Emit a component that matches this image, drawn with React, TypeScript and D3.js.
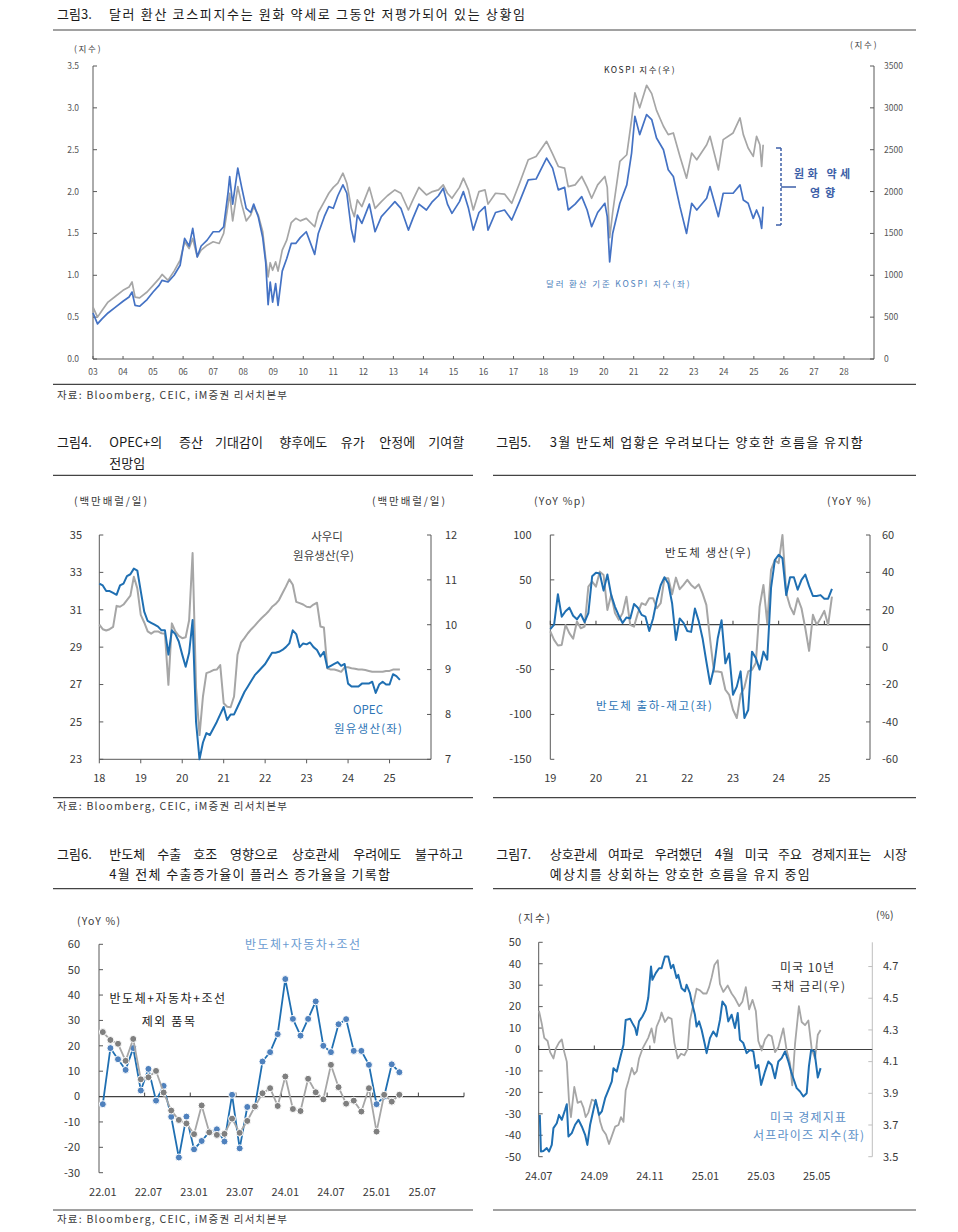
import React from 'react';
import * as d3 from 'd3';

const FONT = '"Noto Sans CJK KR", "Noto Sans", sans-serif';
const INK = '#1a1a1a';
const AXIS = '#595959';
const TXT = '#3a3a3a';
const BLUE3 = '#4472c4';
const BLUE = '#1f6fb2';
const LBLUE = '#4f81bd';
const GRAY = '#a6a6a6';
const DGRAY = '#7f7f7f';

// ---------------- Fig 3 : KOSPI vs USD KOSPI ----------------
const fig3Years = [
  2003.0, 2003.15, 2003.3, 2003.5, 2003.75, 2004.0, 2004.2, 2004.3, 2004.4, 2004.55, 2004.8,
  2005.0, 2005.2, 2005.3, 2005.5, 2005.7, 2005.9, 2006.05, 2006.2, 2006.32, 2006.47, 2006.6, 2006.8,
  2007.0, 2007.2, 2007.35, 2007.5, 2007.55, 2007.65, 2007.82, 2007.95, 2008.1, 2008.25, 2008.35,
  2008.5, 2008.65, 2008.75, 2008.83, 2008.9, 2008.98, 2009.08, 2009.16, 2009.3, 2009.45, 2009.6,
  2009.75, 2009.9, 2010.1, 2010.38, 2010.5, 2010.7, 2010.85, 2011.0, 2011.15, 2011.32, 2011.45,
  2011.6, 2011.7, 2011.8, 2011.95, 2012.2, 2012.39, 2012.6, 2012.8, 2013.05, 2013.25, 2013.5,
  2013.65, 2013.85, 2014.1, 2014.3, 2014.5, 2014.66, 2014.8, 2014.95, 2015.2, 2015.33, 2015.5,
  2015.66, 2015.85, 2016.05, 2016.15, 2016.4, 2016.7, 2016.94, 2017.2, 2017.49, 2017.75, 2018.1,
  2018.3, 2018.49, 2018.7, 2018.82, 2019.05, 2019.27, 2019.45, 2019.6, 2019.8, 2020.04, 2020.12,
  2020.2, 2020.3, 2020.54, 2020.77, 2020.93, 2021.04, 2021.2, 2021.43, 2021.6, 2021.76, 2021.99,
  2022.15, 2022.32, 2022.54, 2022.76, 2022.93, 2023.1, 2023.43, 2023.54, 2023.82, 2023.98,
  2024.31, 2024.54, 2024.65, 2024.81, 2024.98, 2025.09, 2025.2, 2025.26, 2025.31,
];
const fig3UsdKospi = [
  0.55, 0.42, 0.48, 0.55, 0.62, 0.69, 0.74, 0.8, 0.64, 0.63, 0.71,
  0.8, 0.88, 0.94, 0.92, 1.0, 1.12, 1.44, 1.35, 1.56, 1.22, 1.35, 1.42,
  1.52, 1.52, 1.58, 2.0, 2.18, 1.85, 2.28, 2.05, 1.8, 1.75, 1.85,
  1.7, 1.45, 1.15, 0.65, 0.92, 0.68, 0.9, 0.64, 1.05, 1.2, 1.38,
  1.38, 1.45, 1.52, 1.25, 1.5, 1.7, 1.82, 1.8, 1.95, 2.08, 1.98,
  1.55, 1.4, 1.72, 1.62, 1.85, 1.52, 1.7, 1.78, 1.88, 1.8, 1.54,
  1.68, 1.85, 1.78, 1.88, 1.95, 2.04, 1.85, 1.74, 1.88, 2.0, 1.8,
  1.54, 1.75, 1.82, 1.54, 1.75, 1.78, 1.66, 1.88, 2.14, 2.15, 2.4,
  2.28, 2.02, 2.05, 1.78, 1.85, 1.94, 1.78, 1.58, 1.75, 1.86, 1.7,
  1.16, 1.5, 1.86, 2.08, 2.46, 2.9, 2.68, 2.92, 2.86, 2.64, 2.5,
  2.26, 2.18, 1.82, 1.5, 1.86, 1.78, 1.92, 2.06, 1.7, 1.98,
  1.98, 2.08, 1.9, 1.86, 1.68, 1.78, 1.68, 1.56, 1.82,
];
const fig3Kospi = [
  620, 500, 580, 680, 750, 820, 860, 920, 740, 730, 800,
  880, 960, 1010, 940, 1050, 1180, 1400, 1320, 1440, 1220, 1300, 1360,
  1400, 1380, 1500, 1850, 1980, 1650, 2060, 1850, 1650, 1720, 1820,
  1720, 1520, 1200, 980, 1150, 1060, 1160, 1050, 1300, 1420, 1630,
  1680, 1650, 1680, 1580, 1750, 1880, 1980, 2050, 2100, 2220, 2100,
  1800, 1700, 1900, 1820, 2050, 1800, 1880, 1950, 2020, 1980, 1780,
  1900, 2050, 1960, 2000, 2020, 2080, 1980, 1920, 2050, 2160, 2020,
  1780, 2000, 2020, 1850, 1980, 1970, 1860, 2100, 2380, 2420, 2600,
  2450, 2300, 2280, 2060, 2080, 2180, 2050, 1920, 2080, 2180, 2050,
  1450, 1750, 2360, 2440, 2860, 3180, 3000, 3270, 3170, 2970, 2780,
  2680, 2700, 2420, 2160, 2460, 2380, 2560, 2660, 2260, 2620,
  2700, 2880, 2680, 2520, 2420, 2660, 2560, 2300, 2560,
];
const fig3XLabels = ['03', '04', '05', '06', '07', '08', '09', '10', '11', '12', '13', '14', '15',
  '16', '17', '18', '19', '20', '21', '22', '23', '24', '25', '26', '27', '28'];
const fig3LeftTicks = [0, 0.5, 1, 1.5, 2, 2.5, 3, 3.5];
const fig3RightTicks = [0, 500, 1000, 1500, 2000, 2500, 3000, 3500];

// ---------------- Fig 4 : OPEC / Saudi production (monthly from 2018.01) ----------------
const fig4Opec = [
  32.4, 32.3, 32.0, 32.0, 31.9, 31.8, 32.3, 32.4, 32.8, 32.9, 33.2, 33.1,
  32.0, 30.9, 30.4, 30.3, 30.2, 30.1, 29.9, 29.9, 28.6, 29.9, 29.7, 29.3,
  28.6, 27.95, 28.7, 30.45, 25.0, 23.0, 23.9, 24.4, 24.3, 24.65, 25.0, 25.4,
  25.8, 25.1, 25.4, 25.4, 25.8, 26.2, 26.6, 26.9, 27.2, 27.5, 27.7, 27.9,
  28.1, 28.4, 28.7, 28.7, 28.75, 28.85, 29.0, 29.2, 29.9, 29.7, 29.0, 29.2,
  29.15, 29.25, 29.0, 28.85, 28.5, 28.75, 27.9, 28.0, 28.1, 28.2, 28.0, 28.1,
  27.05, 26.9, 26.9, 26.9, 27.05, 27.05, 27.05, 27.15, 26.55, 27.0, 27.15, 27.0,
  27.0, 27.55, 27.45, 27.25,
];
const fig4Saudi = [
  10.0, 9.9, 9.87, 9.9, 9.95, 10.42, 10.4, 10.45, 10.55, 10.65, 11.07, 10.81,
  10.22, 10.05, 9.85, 9.8, 9.85, 9.85, 9.81, 9.8, 8.66, 10.03, 9.85, 9.75,
  9.7, 9.72, 10.1, 11.6, 8.6, 7.54, 8.4, 8.92, 8.95, 8.99, 9.0, 9.1,
  8.25, 8.17, 8.16, 8.4, 9.33, 9.6, 9.7, 9.81, 9.9, 9.98, 10.07, 10.15,
  10.22, 10.3, 10.4, 10.46, 10.55, 10.7, 10.85, 11.01, 10.89, 10.51, 10.48, 10.45,
  10.4, 10.39, 10.45, 10.49, 9.96, 9.94, 9.03, 9.0, 9.0, 8.98, 8.95, 9.05,
  9.05, 9.03, 9.02, 9.0, 9.0, 8.99, 8.97, 8.95, 8.95, 8.95, 8.95, 8.97,
  8.97, 9.0, 9.0, 9.0,
];
const fig4XLabels = ['18', '19', '20', '21', '22', '23', '24', '25'];
const fig4LeftTicks = [23, 25, 27, 29, 31, 33, 35];
const fig4RightTicks = [7, 8, 9, 10, 11, 12];

// ---------------- Fig 5 : semiconductor (monthly from 2019.01) ----------------
const fig5Spread = [
  -5, 0, 34, 9, 15, 19, 10, 6, 12, 3, 13, 54, 58, 57, 38, 56, 33, 20, 10, 2,
  8, 7, 23, 19, 11, 9, -7, 7, 28, 44, 53, 46, 24, -17, 7, 2, -7, -8, 18, 4,
  -15, -41, -66, -48, -15, 5, -43, -32, -78, -69, -52, -104, -95, -30, -37, -50, -30, -39, 41, 72,
  78, 74, 33, 53, 53, 39, 50, 56, 43, 32, 32, 33, 29, 29, 40,
];
const fig5Production = [
  8.4, 3.9, 0.9, 1.2, 11.9, 7.5, 4.5, 13.7, 10.1, 11, 32.4, 35, 32.4, 40.4, 38.6, 19.9, 28, 18.2, 14.6, 18.2,
  27, 11.9, 11, 18.2, 23.5, 22.6, 26.2, 26.2, 20.8, 23.5, 36.9, 36.9, 28.3, 37.2, 31, 33.3, 36, 33.3, 31.5, 33.6,
  28.8, 22.6, 3.9, -13, -13, -13.4, -22.8, -25.5, -33.5, -37.9, -25.5, -21.5, -13, -12.1, -8.5, 21.7, 33.3, 12.8, 41.3, 46.6,
  44.9, 60, 28.8, 21.7, 17.6, 26.2, 20.8, 10.1, -2, 17.3, 11.9, 15.5, 19.4, 11.9, 27,
];
const fig5XLabels = ['19', '20', '21', '22', '23', '24', '25'];
const fig5LeftTicks = [-150, -100, -50, 0, 50, 100];
const fig5RightTicks = [-60, -40, -20, 0, 20, 40, 60];

// ---------------- Fig 6 : exports (monthly from 22.01) ----------------
const fig6Core = [
  -3.0, 19.1, 14.7, 10.5, 19.1, 2.4, 10.9, -1.6, 4.2, -8, -24.0, -7.9, -20.8, -17.5, -14, -12.9, -17.7, 0.7, -20.4, -4.1,
  -4, 13.8, 17.5, 24.6, 46.3, 30.6, 24.0, 30.6, 37.5, 20.0, 17.5, 28.5, 30.5, 18.0, 18.0, 12.5, -3.0, 0, 12.7, 9.6,
];
const fig6Other = [
  25.4, 22.3, 20.8, 14.1, 22.7, 6.8, 7.6, 10.1, 1.6, -5.5, -9.2, -10.6, -14.8, -3.5, -14.1, -15.1, -14.7, -8.7, -14.3, -9.6,
  -3.9, 1.3, 3.3, -3.7, 7.9, -4.9, -5.7, 7.0, 1.7, -1.1, 12.5, 3.7, -2.8, -1.6, -5.9, 3.3, -13.8, 0.7, -2.0, 0.7,
];
const fig6XLabels = ['22.01', '22.07', '23.01', '23.07', '24.01', '24.07', '25.01', '25.07'];
const fig6Ticks = [-30, -20, -10, 0, 10, 20, 30, 40, 50, 60];

// ---------------- Fig 7 : US surprise index & 10Y (months since 2024.07) ----------------
const fig7SurpriseT = [
  0.04, 0.08, 0.17, 0.29, 0.37, 0.47, 0.53, 0.65, 0.73, 0.83, 0.95, 1.01, 1.07, 1.19, 1.31, 1.43, 1.55, 1.67, 1.75, 1.85,
  1.97, 2.05, 2.17, 2.27, 2.39, 2.51, 2.63, 2.69, 2.81, 2.93, 3.05, 3.13, 3.29, 3.37, 3.47, 3.53, 3.61, 3.73, 3.85, 3.94,
  4.04, 4.09, 4.21, 4.33, 4.42, 4.54, 4.66, 4.76, 4.84, 4.96, 5.02, 5.14, 5.26, 5.32, 5.44, 5.5, 5.62, 5.68, 5.77, 5.86,
  5.98, 6.04, 6.16, 6.28, 6.4, 6.52, 6.61, 6.73, 6.82, 6.94, 7.06, 7.16, 7.24, 7.36, 7.48, 7.6, 7.72, 7.81, 7.9, 8.0,
  8.14, 8.26, 8.38, 8.5, 8.62, 8.74, 8.86, 8.98, 9.08, 9.16, 9.28, 9.4, 9.52, 9.64, 9.72, 9.8, 9.92, 10.04, 10.14,
];
const fig7Surprise = [
  -30.5, -47.6, -47.3, -46.0, -47.6, -44.5, -36.7, -34.4, -30.5, -32.8, -28.1, -25.5, -40.6, -39.0, -35.1, -32.8, -35.9, -39.8, -44.5, -35.1,
  -28.1, -23.5, -30.5, -28.9, -22.7, -18.8, -14.9, -8.7, -10.3, -4.0, 2.2, 13.8, 14.3, 12.3, 10.0, 6.8, 13.1, 15.4, 18.5, 24.0,
  38.7, 32.5, 35.6, 37.9, 37.9, 43.4, 43.4, 37.9, 39.5, 33.3, 34.8, 28.6, 27.1, 30.2, 26.3, 22.4, 16.2, 10.7, 13.1, 9.2,
  2.2, -1.7, 5.3, 8.4, 6.1, 13.8, 22.4, 20.1, 13.1, 16.2, 10.0, 17.0, 4.5, 3.0, -1.7, -0.2, -0.9, -8.7, -7.2, -16.5,
  -10.3, -5.6, -7.2, -13.4, -5.6, -4.0, -0.9, -5.6, -10.3, -13.4, -18.0, -19.6, -21.9, -20.4, -7.9, -0.2, -0.9, -13.1, -8.7,
];
const fig7YieldT = [
  0.01, 0.11, 0.2, 0.32, 0.41, 0.53, 0.61, 0.73, 0.83, 0.92, 1.01, 1.09, 1.16, 1.28, 1.4, 1.52, 1.61, 1.69, 1.79, 1.91,
  2.03, 2.12, 2.21, 2.3, 2.42, 2.53, 2.63, 2.75, 2.87, 2.96, 3.05, 3.13, 3.23, 3.35, 3.44, 3.53, 3.61, 3.73, 3.82, 3.94,
  4.06, 4.16, 4.24, 4.36, 4.42, 4.54, 4.66, 4.78, 4.88, 5.0, 5.12, 5.24, 5.36, 5.44, 5.56, 5.68, 5.8, 5.92, 6.04, 6.13,
  6.22, 6.32, 6.44, 6.52, 6.64, 6.8, 6.94, 7.06, 7.21, 7.33, 7.45, 7.57, 7.69, 7.81, 7.9, 8.02, 8.14, 8.26, 8.38, 8.5,
  8.62, 8.8, 8.92, 9.04, 9.12, 9.22, 9.36, 9.46, 9.58, 9.7, 9.82, 9.94, 10.04, 10.14,
];
const fig7Yield = [
  4.42, 4.34, 4.25, 4.23, 4.16, 4.12, 4.18, 4.22, 4.24, 4.16, 4.1, 3.85, 3.75, 3.94, 3.84, 3.85, 3.81, 3.75, 3.78, 3.86,
  3.85, 3.81, 3.72, 3.67, 3.64, 3.58, 3.63, 3.69, 3.7, 3.75, 3.72, 3.92, 3.98, 4.06, 4.02, 4.04, 4.12, 4.18, 4.21, 4.25,
  4.31, 4.22, 4.32, 4.37, 4.41, 4.35, 4.38, 4.37, 4.22, 4.12, 4.15, 4.14, 4.18, 4.36, 4.46, 4.56, 4.55, 4.53, 4.53, 4.57,
  4.63, 4.71, 4.74, 4.59, 4.54, 4.58, 4.53, 4.5, 4.45, 4.48, 4.57, 4.43, 4.49, 4.42, 4.23, 4.17, 4.24, 4.27, 4.26, 4.16,
  4.19, 4.31, 4.17, 4.09, 3.95, 4.21, 4.45, 4.35, 4.33, 4.36, 4.18, 4.12, 4.27, 4.3,
];
const fig7XLabels = ['24.07', '24.09', '24.11', '25.01', '25.03', '25.05'];
const fig7LeftTicks = [-50, -40, -30, -20, -10, 0, 10, 20, 30, 40, 50];
const fig7RightTicks = [3.5, 3.7, 3.9, 4.1, 4.3, 4.5, 4.7];

type Sc = d3.ScaleLinear<number, number>;

function VAxis(p: {
  scale: Sc; ticks: number[]; x: number; dir: number; labelX: number; anchor: string;
  fmt: (v: number) => string; fs: number; stroke?: string; fill?: string; len?: number;
}) {
  const [y0, y1] = p.scale.range();
  const len = p.len ?? 4;
  const st = p.stroke ?? AXIS;
  return (
    <g>
      <line x1={p.x} x2={p.x} y1={y0} y2={y1} stroke={st} strokeWidth={1} />
      {p.ticks.map((v) => (
        <g key={v}>
          <line x1={p.x} x2={p.x + p.dir * len} y1={p.scale(v)} y2={p.scale(v)} stroke={st} strokeWidth={1} />
          <text x={p.labelX} y={p.scale(v)} dy="0.35em" textAnchor={p.anchor} fontSize={p.fs} fill={p.fill ?? TXT}>
            {p.fmt(v)}
          </text>
        </g>
      ))}
    </g>
  );
}

function Words({ items, y, fs }: { items: [string, number][]; y: number; fs: number }) {
  return (
    <g>
      {items.map(([w, x], i) => (
        <text key={i} x={x} y={y} fontSize={fs} fill={INK}>{w}</text>
      ))}
    </g>
  );
}

// label spanning [x0, x1] horizontally (spacing stretched to the reference width)
function Span({ x0, x1, y, fs, fill, children, weight }: { x0: number; x1: number; y: number; fs: number; fill: string; children: string; weight?: string }) {
  return (
    <text x={x0} y={y} fontSize={fs} fill={fill} fontWeight={weight} textLength={x1 - x0} lengthAdjust="spacing">
      {children}
    </text>
  );
}

const SRC = '자료: Bloomberg, CEIC, iM증권 리서치본부';

function Fig3() {
  const x = d3.scaleLinear().domain([2003, 2029]).range([93, 874]);
  const yL = d3.scaleLinear().domain([0, 3.5]).range([359, 66]);
  const yR = d3.scaleLinear().domain([0, 3500]).range([359, 66]);
  const lineL = d3.line<number>().x((_, i) => x(fig3Years[i])).y((d) => yL(d));
  const lineR = d3.line<number>().x((_, i) => x(fig3Years[i])).y((d) => yR(d));
  const f1 = d3.format('.1f');
  return (
    <g>
      <text x={57} y={19} fontSize={13} fill={INK}>그림3.</text>
      <text x={109} y={19} fontSize={13} fill={INK} textLength={416} lengthAdjust="spacing">
        달러 환산 코스피지수는 원화 약세로 그동안 저평가되어 있는 상황임
      </text>
      <line x1={53} x2={916} y1={30} y2={30} stroke="#444" strokeWidth={1.2} />
      <Span x0={74} x1={100.5} y={51.5} fs={8.5} fill={TXT}>(지수)</Span>
      <Span x0={850} x1={876.5} y={47.5} fs={8.5} fill={TXT}>(지수)</Span>
      <VAxis scale={yL} ticks={fig3LeftTicks} x={93} dir={1} labelX={79} anchor="end" fmt={f1} fs={8.5} len={4} fill="#555" />
      <VAxis scale={yR} ticks={fig3RightTicks} x={874} dir={-1} labelX={884} anchor="start" fmt={(v) => String(v)} fs={8.5} len={4} fill="#555" />
      <line x1={93} x2={874} y1={359} y2={359} stroke={AXIS} strokeWidth={1} />
      {fig3XLabels.map((l, i) => (
        <g key={l}>
          <line x1={x(2003 + i)} x2={x(2003 + i)} y1={359} y2={356} stroke={AXIS} />
          <text x={x(2003 + i)} y={374.5} fontSize={8.5} fill="#555" textAnchor="middle">{l}</text>
        </g>
      ))}
      <path d={lineR(fig3Kospi) ?? ''} fill="none" stroke={GRAY} strokeWidth={1.7} strokeLinejoin="round" />
      <path d={lineL(fig3UsdKospi) ?? ''} fill="none" stroke={BLUE3} strokeWidth={1.7} strokeLinejoin="round" />
      <Span x0={604} x1={674.5} y={72.5} fs={8.5} fill={INK}>KOSPI 지수(우)</Span>
      <Span x0={546} x1={689.5} y={286.5} fs={8.5} fill="#4a7ebb">달러 환산 기준 KOSPI 지수(좌)</Span>
      <g stroke="#3d5fa8" strokeWidth={1.5} fill="none">
        <line x1={781} x2={781} y1={148} y2={225} strokeDasharray="3,2" />
        <line x1={776} x2={781} y1={148} y2={148} />
        <line x1={776} x2={781} y1={225} y2={225} />
        <line x1={781} x2={796} y1={187} y2={187} />
      </g>
      <Span x0={794} x1={850} y={177.5} fs={11} fill="#3d5fa8" weight="bold">원화 약세</Span>
      <Span x0={810} x1={835} y={197} fs={11} fill="#3d5fa8" weight="bold">영향</Span>
      <line x1={53} x2={916} y1={384.3} y2={384.3} stroke="#444" strokeWidth={1.2} />
      <text x={57} y={398.5} fontSize={10.5} fill={TXT} textLength={230} lengthAdjust="spacing">{SRC}</text>
    </g>
  );
}

function Fig4() {
  const x = d3.scaleLinear().domain([2018, 2026]).range([99.3, 431]);
  const yL = d3.scaleLinear().domain([23, 35]).range([759.3, 535]);
  const yR = d3.scaleLinear().domain([7, 12]).range([759.3, 535]);
  const lineL = d3.line<number>().x((_, i) => x(2018 + i / 12)).y((d) => yL(d));
  const lineR = d3.line<number>().x((_, i) => x(2018 + i / 12)).y((d) => yR(d));
  return (
    <g>
      <text x={57} y={446.5} fontSize={13} fill={INK}>그림4.</text>
      <Words
        y={446.5}
        fs={13}
        items={[['OPEC+의', 109.3], ['증산', 179], ['기대감이', 215], ['향후에도', 279.3], ['유가', 340.7], ['안정에', 379.3], ['기여할', 428.3]]}
      />
      <text x={109.3} y={467.5} fontSize={13} fill={INK}>전망임</text>
      <line x1={53} x2={473} y1={475.3} y2={475.3} stroke="#444" strokeWidth={1.2} />
      <Span x0={74} x1={147} y={505} fs={10.5} fill={TXT}>(백만배럴/일)</Span>
      <Span x0={372} x1={445} y={505} fs={10.5} fill={TXT}>(백만배럴/일)</Span>
      <VAxis scale={yL} ticks={fig4LeftTicks} x={99.3} dir={1} labelX={82} anchor="end" fmt={(v) => String(v)} fs={11} />
      <VAxis scale={yR} ticks={fig4RightTicks} x={431} dir={-1} labelX={445} anchor="start" fmt={(v) => String(v)} fs={11} />
      <line x1={99.3} x2={431} y1={759.3} y2={759.3} stroke={AXIS} />
      {fig4XLabels.map((l, i) => (
        <g key={l}>
          <line x1={x(2018 + i)} x2={x(2018 + i)} y1={759.3} y2={763.3} stroke={AXIS} />
          <text x={x(2018 + i)} y={782} fontSize={11} fill={TXT} textAnchor="middle">{l}</text>
        </g>
      ))}
      <path d={lineR(fig4Saudi) ?? ''} fill="none" stroke={GRAY} strokeWidth={2} strokeLinejoin="round" />
      <path d={lineL(fig4Opec) ?? ''} fill="none" stroke={BLUE} strokeWidth={2} strokeLinejoin="round" />
      <text x={327} y={541} fontSize={11.5} fill="#404040" textAnchor="middle">사우디</text>
      <Span x0={293} x1={354} y={560} fs={11.5} fill="#404040">원유생산(우)</Span>
      <Span x0={353} x1={383} y={714} fs={11.5} fill="#2e75b6">OPEC</Span>
      <Span x0={334} x1={402} y={733} fs={11.5} fill="#2e75b6">원유생산(좌)</Span>
      <line x1={53} x2={473} y1={797.7} y2={797.7} stroke="#444" strokeWidth={1.2} />
      <text x={57} y={810} fontSize={10.5} fill={TXT} textLength={230} lengthAdjust="spacing">{SRC}</text>
    </g>
  );
}

function Fig5() {
  const x = d3.scaleLinear().domain([2019, 2026]).range([550.3, 870]);
  const yL = d3.scaleLinear().domain([-150, 100]).range([759.3, 535]);
  const yR = d3.scaleLinear().domain([-60, 60]).range([759.3, 535]);
  const lineL = d3.line<number>().x((_, i) => x(2019 + i / 12)).y((d) => yL(d));
  const lineR = d3.line<number>().x((_, i) => x(2019 + i / 12)).y((d) => yR(d));
  const z = yL(0);
  return (
    <g>
      <text x={496.3} y={446.5} fontSize={13} fill={INK}>그림5.</text>
      <text x={549.7} y={446.5} fontSize={13} fill={INK} textLength={313} lengthAdjust="spacing">
        3월 반도체 업황은 우려보다는 양호한 흐름을 유지함
      </text>
      <line x1={493} x2={916} y1={475.3} y2={475.3} stroke="#444" strokeWidth={1.2} />
      <Span x0={534} x1={585} y={505} fs={10.5} fill={TXT}>(YoY %p)</Span>
      <Span x0={827} x1={871} y={505} fs={10.5} fill={TXT}>(YoY %)</Span>
      <VAxis scale={yL} ticks={fig5LeftTicks} x={550.3} dir={1} labelX={531.5} anchor="end" fmt={(v) => String(v)} fs={11} />
      <VAxis scale={yR} ticks={fig5RightTicks} x={870} dir={-1} labelX={882} anchor="start" fmt={(v) => String(v)} fs={11} />
      <line x1={550.3} x2={870} y1={z} y2={z} stroke="#404040" strokeWidth={1.2} />
      {fig5XLabels.map((l, i) => (
        <g key={l}>
          <line x1={x(2019 + i)} x2={x(2019 + i)} y1={z} y2={z - 4} stroke="#404040" />
          <text x={x(2019 + i)} y={782} fontSize={11} fill={TXT} textAnchor="middle">{l}</text>
        </g>
      ))}
      <path d={lineR(fig5Production) ?? ''} fill="none" stroke={GRAY} strokeWidth={2} strokeLinejoin="round" />
      <path d={lineL(fig5Spread) ?? ''} fill="none" stroke={BLUE} strokeWidth={2} strokeLinejoin="round" />
      <Span x0={665} x1={751} y={557} fs={11.5} fill="#333">반도체 생산(우)</Span>
      <Span x0={596} x1={712} y={710} fs={11.5} fill="#2e75b6">반도체 출하-재고(좌)</Span>
      <line x1={493} x2={916} y1={797.7} y2={797.7} stroke="#444" strokeWidth={1.2} />
    </g>
  );
}

function Fig6() {
  const months = d3.range(48);
  const x = d3.scaleBand<number>().domain(months).range([99, 464]).padding(0);
  const bw = x.bandwidth();
  const cx = (i: number) => (x(i) ?? 0) + bw / 2;
  const y = d3.scaleLinear().domain([-30, 60]).range([1172.7, 944.3]);
  const line = d3.line<number>().x((_, i) => cx(i)).y((d) => y(d));
  const z = y(0);
  return (
    <g>
      <text x={57} y={858.5} fontSize={13} fill={INK}>그림6.</text>
      <Words
        y={858.5}
        fs={13}
        items={[['반도체', 109.3], ['수출', 157.3], ['호조', 193.3], ['영향으로', 230], ['상호관세', 291.7], ['우려에도', 353.3], ['불구하고', 415]]}
      />
      <text x={109.3} y={879} fontSize={13} fill={INK} textLength={280.7} lengthAdjust="spacing">
        4월 전체 수출증가율이 플러스 증가율을 기록함
      </text>
      <line x1={53} x2={473} y1={888.7} y2={888.7} stroke="#444" strokeWidth={1.2} />
      <Span x0={77} x1={120} y={925} fs={10.5} fill={TXT}>(YoY %)</Span>
      <VAxis scale={y} ticks={fig6Ticks} x={99} dir={1} labelX={80} anchor="end" fmt={(v) => String(v)} fs={11} />
      <line x1={99} x2={464} y1={z} y2={z} stroke="#404040" strokeWidth={1.2} />
      {d3.range(6, 49, 6).map((i) => (
        <line key={i} x1={99 + i * bw} x2={99 + i * bw} y1={z} y2={z - 4} stroke="#404040" />
      ))}
      {fig6XLabels.map((l, k) => (
        <text key={l} x={cx(k * 6)} y={1196} fontSize={11} fill={TXT} textAnchor="middle">{l}</text>
      ))}
      <path d={line(fig6Core) ?? ''} fill="none" stroke={BLUE} strokeWidth={1.8} />
      {fig6Core.map((d, i) => (
        <circle key={'b' + i} cx={cx(i)} cy={y(d)} r={3.5} fill={LBLUE} stroke="#fff" strokeWidth={1} />
      ))}
      <path d={line(fig6Other) ?? ''} fill="none" stroke={GRAY} strokeWidth={1.8} />
      {fig6Other.map((d, i) => (
        <circle key={'g' + i} cx={cx(i)} cy={y(d)} r={3.5} fill={DGRAY} stroke="#fff" strokeWidth={1} />
      ))}
      <Span x0={245} x1={360} y={948.5} fs={12} fill="#6a9bd1">반도체+자동차+조선</Span>
      <Span x0={109.5} x1={225} y={1002.5} fs={12} fill={INK}>반도체+자동차+조선</Span>
      <Span x0={141.7} x1={195} y={1026} fs={12} fill={INK}>제외 품목</Span>
      <line x1={53} x2={473} y1={1210} y2={1210} stroke="#444" strokeWidth={1.2} />
      <text x={57} y={1222.5} fontSize={10.5} fill={TXT} textLength={230} lengthAdjust="spacing">{SRC}</text>
    </g>
  );
}

function Fig7() {
  const x = d3.scaleLinear().domain([0, 12]).range([538.7, 872.3]);
  const yL = d3.scaleLinear().domain([-50, 50]).range([1156.7, 942.3]);
  const yR = d3.scaleLinear().domain([3.5, 4.853]).range([1156.7, 942.3]);
  const lineL = d3.line<number>().x((_, i) => x(fig7SurpriseT[i])).y((d) => yL(d));
  const lineR = d3.line<number>().x((_, i) => x(fig7YieldT[i])).y((d) => yR(d));
  const z = yL(0);
  const f1 = d3.format('.1f');
  return (
    <g>
      <text x={496.3} y={858.5} fontSize={13} fill={INK}>그림7.</text>
      <Words
        y={858.5}
        fs={13}
        items={[['상호관세', 549.7], ['여파로', 608], ['우려했던', 654.7], ['4월', 714.7], ['미국', 744.7], ['주요', 778], ['경제지표는', 811.3], ['시장', 883]]}
      />
      <text x={549.7} y={879} fontSize={13} fill={INK} textLength={260} lengthAdjust="spacing">
        예상치를 상회하는 양호한 흐름을 유지 중임
      </text>
      <line x1={493} x2={916} y1={888.7} y2={888.7} stroke="#444" strokeWidth={1.2} />
      <Span x0={518} x1={550} y={922} fs={10.5} fill={TXT}>(지수)</Span>
      <Span x0={876} x1={893.5} y={919} fs={10.5} fill={TXT}>(%)</Span>
      <VAxis scale={yL} ticks={fig7LeftTicks} x={538.7} dir={1} labelX={521} anchor="end" fmt={(v) => String(v)} fs={11} />
      <VAxis scale={yR} ticks={fig7RightTicks} x={872.3} dir={-1} labelX={883} anchor="start" fmt={f1} fs={11} stroke="#bfbfbf" />
      <line x1={538.7} x2={872.3} y1={z} y2={z} stroke="#404040" strokeWidth={1.2} />
      {fig7XLabels.map((l, k) => (
        <g key={l}>
          <line x1={x(k * 2)} x2={x(k * 2)} y1={z} y2={z - 4} stroke="#404040" />
          <text x={x(k * 2)} y={1180} fontSize={11} fill={TXT} textAnchor="middle">{l}</text>
        </g>
      ))}
      <path d={lineR(fig7Yield) ?? ''} fill="none" stroke={GRAY} strokeWidth={1.8} strokeLinejoin="round" />
      <path d={lineL(fig7Surprise) ?? ''} fill="none" stroke={BLUE} strokeWidth={2} strokeLinejoin="round" />
      <Span x0={780} x1={834} y={972} fs={12} fill="#333">미국 10년</Span>
      <Span x0={771} x1={845} y={991} fs={12} fill="#333">국채 금리(우)</Span>
      <Span x0={770} x1={846} y={1122} fs={12} fill="#5b8fc7">미국 경제지표</Span>
      <Span x0={753} x1={864} y={1140} fs={12} fill="#5b8fc7">서프라이즈 지수(좌)</Span>
      <line x1={493} x2={916} y1={1210} y2={1210} stroke="#444" strokeWidth={1.2} />
    </g>
  );
}

export default function App() {
  return (
    <svg
      width={958}
      height={1232}
      viewBox="0 0 958 1232"
      style={{ position: 'absolute', left: 0, top: 0, background: '#fff' }}
      fontFamily={FONT}
    >
      <rect x={0} y={0} width={958} height={1232} fill="#fff" />
      <Fig3 />
      <Fig4 />
      <Fig5 />
      <Fig6 />
      <Fig7 />
    </svg>
  );
}
